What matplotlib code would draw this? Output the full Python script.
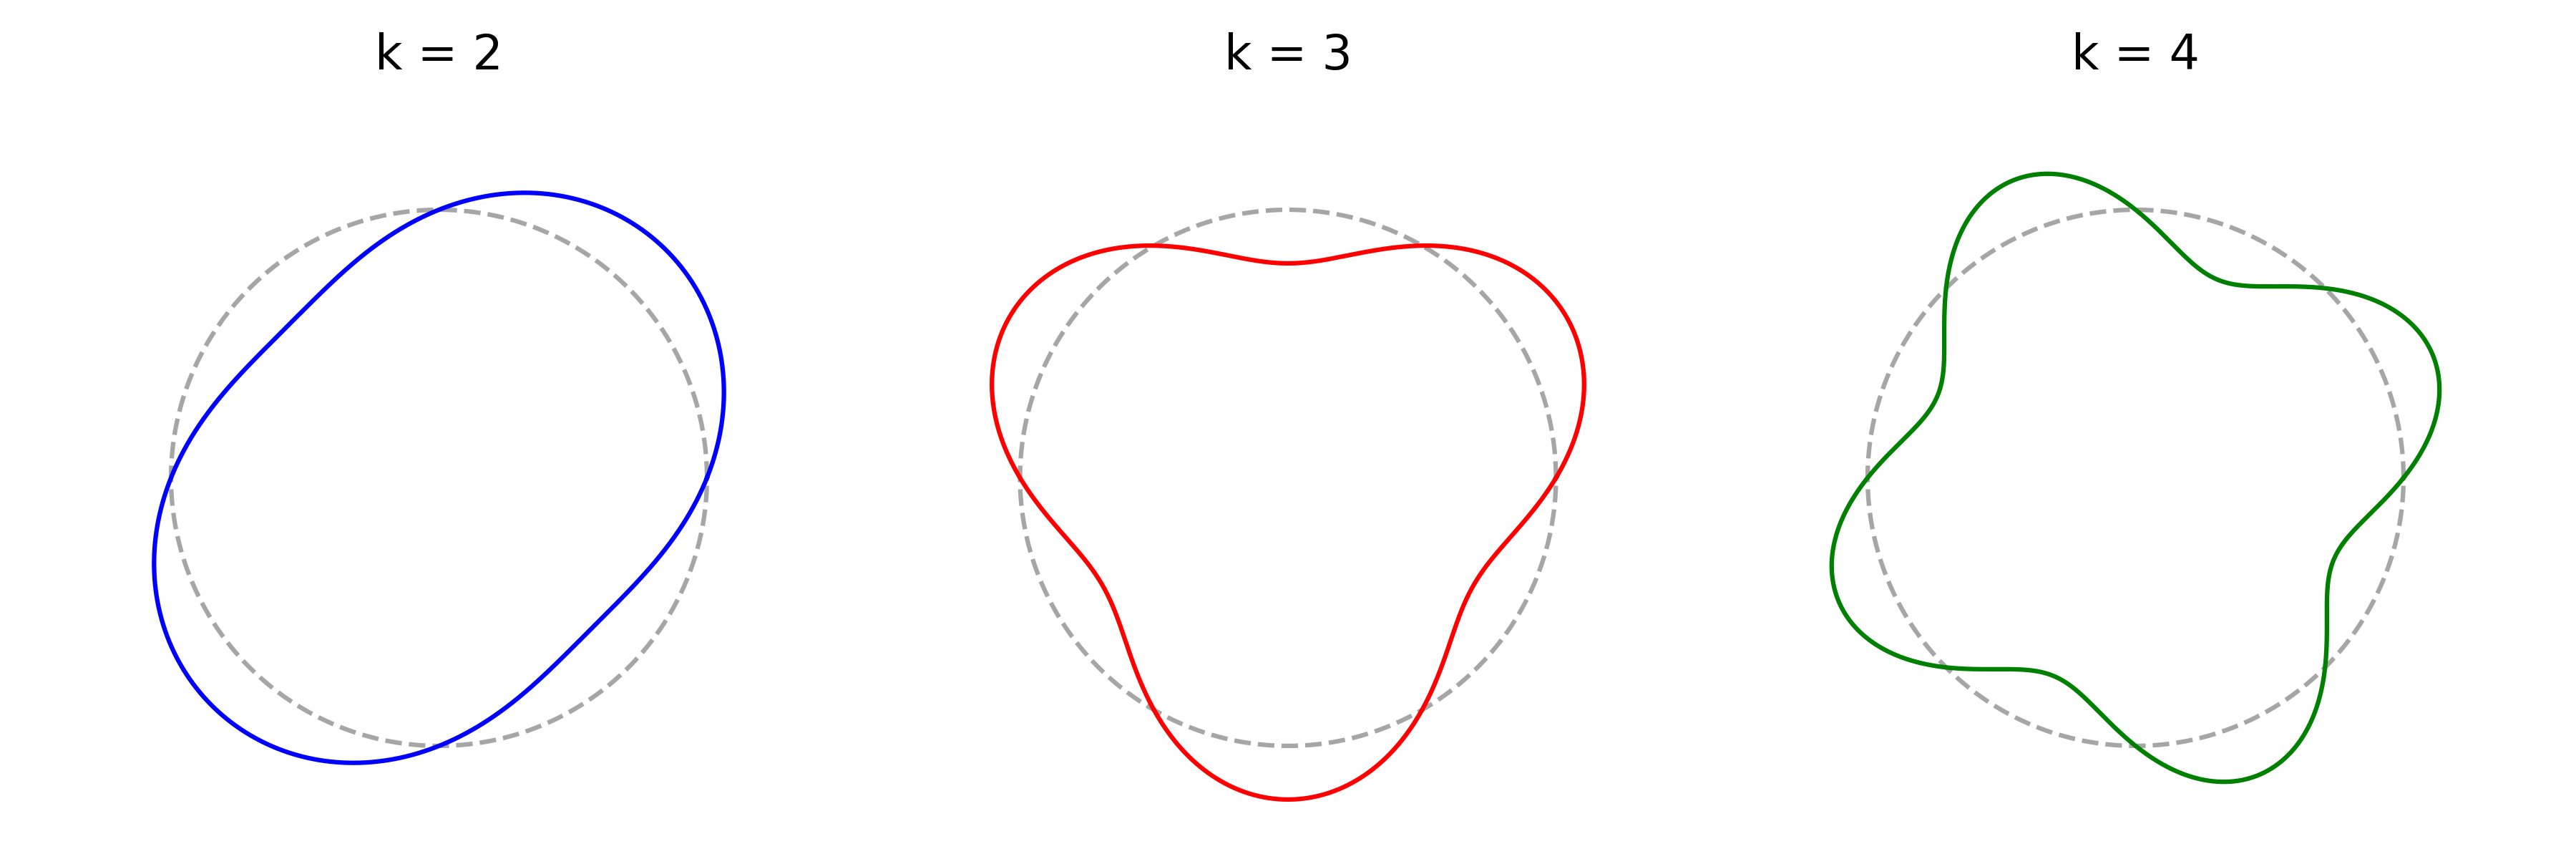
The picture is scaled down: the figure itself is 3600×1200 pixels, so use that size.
import numpy as np
import matplotlib
matplotlib.use("Agg")
import matplotlib.pyplot as plt

# Data
ks = [2, 3, 4]
titles = ["k = 2", "k = 3", "k = 4"]
colors = ["blue", "red", "green"]
base_radius = 1.0
amplitude = 0.2

# Layout (pixels in a 3600x1200 figure)
W, H = 3600, 1200
scale = 374.5            # pixels per data unit
centers_x = [613.5, 1800.0, 2984.5]
center_y = 667.5
top_px = 122
half_w = 1.5

fig = plt.figure(figsize=(12, 4), dpi=300)
theta = np.linspace(0, 2 * np.pi, 2000)

for k, title, c, cx in zip(ks, titles, colors, centers_x):
    ax_w = 2 * half_w * scale
    left = (cx - half_w * scale) / W
    ax = fig.add_axes([left, 0.0, ax_w / W, (H - top_px) / H])
    ax.set_xlim(-half_w, half_w)
    ax.set_ylim(-(H - center_y) / scale, (center_y - top_px) / scale)
    r = base_radius + amplitude * np.sin(k * theta)
    ax.plot(base_radius * np.cos(theta), base_radius * np.sin(theta), "--",
            color="gray", alpha=0.7, lw=1.5)
    ax.plot(r * np.cos(theta), r * np.sin(theta), color=c, lw=1.5)
    ax.axis("off")
    ax.set_title(title, fontsize=16)

fig.savefig("out.png", dpi=300)
